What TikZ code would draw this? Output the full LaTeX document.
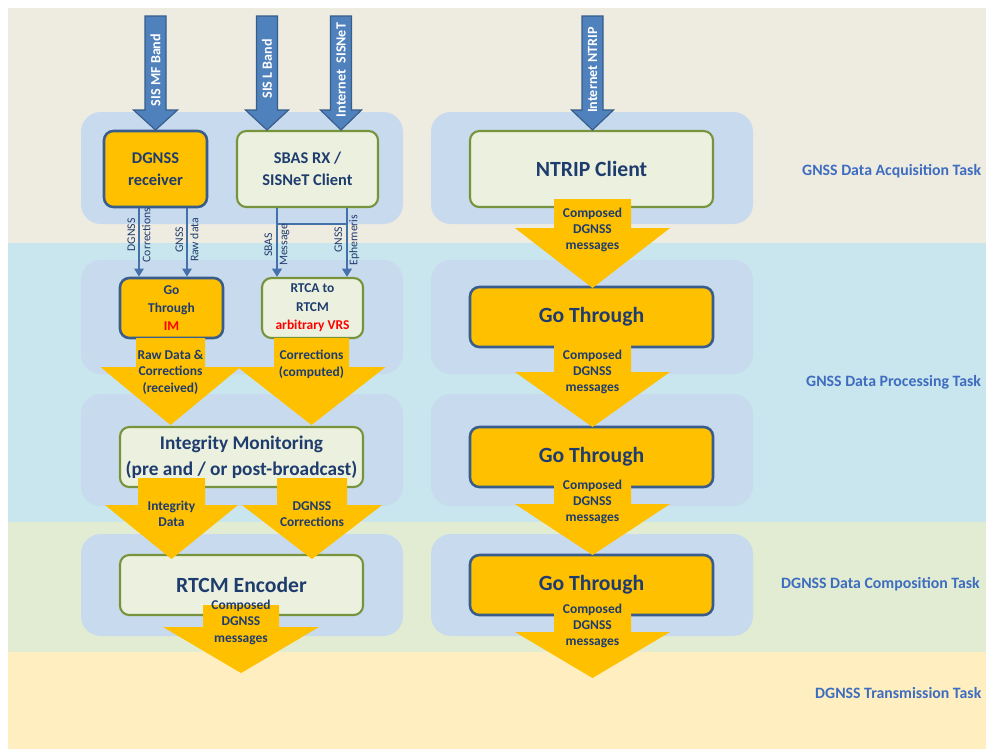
\documentclass[tikz,border=0pt]{standalone}
\usepackage{fontspec}
\setmainfont{Carlito}
\usepackage{xcolor}
\definecolor{bandbeige}{HTML}{EEEBE1}
\definecolor{bandblue}{HTML}{C9E5ED}
\definecolor{bandgreen}{HTML}{E1ECD2}
\definecolor{bandyellow}{HTML}{FFEEBF}
\definecolor{groupblue}{HTML}{C8DAEE}
\definecolor{boxorange}{HTML}{FFC000}
\definecolor{boxgreen}{HTML}{EBF1DE}
\definecolor{edgegreen}{HTML}{77933C}
\definecolor{edgeblue}{HTML}{385D8A}
\definecolor{arrowblue}{HTML}{4F81BD}
\definecolor{linkblue}{HTML}{4571AA}
\definecolor{textnavy}{HTML}{1F3C6E}
\definecolor{tasktext}{HTML}{3E6DC0}
\definecolor{imred}{HTML}{FF0000}
\usepackage{tikz}
\usetikzlibrary{arrows.meta,positioning,calc}

\newcommand{\blockdown}[7]{%
  \path[#1] (#2-#6,#3) -- (#2+#6,#3) -- (#2+#6,#4) -- (#2+#7,#4) -- (#2,#5)
    -- (#2-#7,#4) -- (#2-#6,#4) -- cycle;}

\tikzset{
  group/.style={fill=groupblue, rounded corners=17pt},
  orangebox/.style={draw=edgeblue, line width=2.2pt, fill=boxorange, rounded corners=8pt,
    text=textnavy, align=center, inner sep=0pt},
  greenbox/.style={draw=edgegreen, line width=1.8pt, fill=boxgreen, rounded corners=8pt,
    text=textnavy, align=center, inner sep=0pt},
  bigtext/.style={font=\fontsize{18.5}{22}\selectfont\bfseries},
  midtext/.style={font=\fontsize{14}{19}\selectfont\bfseries},
  smalltext/.style={font=\fontsize{11.5}{15.7}\selectfont\bfseries},
  bluearrow/.style={fill=arrowblue, draw=edgeblue, line width=1pt},
  orangearrow/.style={fill=boxorange},
  bandtext/.style={rotate=90, text=white, font=\fontsize{12}{14}\selectfont\bfseries, inner sep=0pt},
  arrowtext/.style={text=textnavy, align=center, font=\fontsize{11.5}{14}\selectfont\bfseries, inner sep=0pt},
  link/.style={draw=linkblue, line width=2pt, -{Triangle[length=7pt,width=8pt]}},
  linklabel/.style={rotate=90, align=center, text=textnavy, font=\fontsize{10}{13}\selectfont, inner sep=0pt},
  tasklabel/.style={anchor=west, text=tasktext, font=\fontsize{13.5}{16}\selectfont\bfseries, inner sep=0pt}
}

\begin{document}
\begin{tikzpicture}[x=0.03cm, y=-0.03cm]
  \fill[white] (0,0) rectangle (986,749);
  \clip (0,0) rectangle (986,749);

  \fill[bandbeige] (8,8) rectangle (986,243);
  \fill[bandblue] (8,243) rectangle (986,522);
  \fill[bandgreen] (8,522) rectangle (986,652);
  \fill[bandyellow] (8,652) rectangle (986,749);

  \fill[group] (81,112) rectangle (403,224);
  \fill[group] (81,260) rectangle (403,374);
  \fill[group] (81,394) rectangle (403,506);
  \fill[group] (81,534) rectangle (403,636);
  \fill[group] (431,112) rectangle (753,224);
  \fill[group] (431,260) rectangle (753,374);
  \fill[group] (431,394) rectangle (753,506);
  \fill[group] (431,534) rectangle (753,636);

  \node[tasklabel] (acq) at (802,171) {GNSS Data Acquisition Task};
  \node[tasklabel] (proc) at (806,382) {GNSS Data Processing Task};
  \node[tasklabel] (comp) at (781,584) {DGNSS Data Composition Task};
  \node[tasklabel] (trans) at (815,693) {DGNSS Transmission Task};

  \node[orangebox, midtext, minimum width=3.09cm, minimum height=2.28cm] (dgnss) at (155.5,169) {DGNSS\\receiver};
  \node[greenbox, midtext, minimum width=4.23cm, minimum height=2.28cm] (sbas) at (307.5,169) {SBAS RX /\\SISNeT Client};
  \node[greenbox, bigtext, minimum width=7.29cm, minimum height=2.28cm] (ntrip) at (591.5,169) {NTRIP Client};

  \node[orangebox, smalltext, minimum width=3.09cm, minimum height=1.8cm] (goim) at (171.5,308) {Go\\Through\\\textcolor{imred}{IM}};
  \node[greenbox, smalltext, minimum width=3.03cm, minimum height=1.8cm] (rtca) at (312.5,308) {RTCA to\\RTCM\\\textcolor{imred}{arbitrary VRS}};
  \node[orangebox, bigtext, minimum width=7.29cm, minimum height=1.8cm] (gothrua) at (591.5,317) {Go Through};

  \node[greenbox, font=\fontsize{16.5}{22}\selectfont\bfseries, minimum width=7.29cm, minimum height=1.8cm] (integ) at (241.5,457) {Integrity Monitoring\\(pre and / or post-broadcast)};
  \node[orangebox, bigtext, minimum width=7.29cm, minimum height=1.8cm] (gothrub) at (591.5,457) {Go Through};

  \node[greenbox, bigtext, minimum width=7.29cm, minimum height=1.8cm] (encoder) at (241.5,585) {RTCM Encoder};
  \node[orangebox, bigtext, minimum width=7.29cm, minimum height=1.8cm] (gothruc) at (591.5,585) {Go Through};

  \draw[link] (dgnss.south -| 139,0) -- (goim.north -| 139,0);
  \draw[link] (dgnss.south -| 187,0) -- (goim.north -| 187,0);
  \draw[link] (sbas.south -| 277,0) -- (rtca.north -| 277,0);
  \draw[link] (sbas.south -| 347,0) -- (rtca.north -| 347,0);
  \coordinate (joinl) at (277,224);
  \coordinate (joinr) at (347,224);
  \draw[linkblue, line width=2pt] (joinl) -- (joinr);

  \node[linklabel] (dgcorr) at (139,235) {DGNSS\\Corrections};
  \node[linklabel] (gnssraw) at (187,240) {GNSS\\Raw data};
  \node[linklabel] (sbasmsg) at (277,245) {SBAS\\Message};
  \node[linklabel] (gnsseph) at (347,240) {GNSS\\Ephemeris};

  \blockdown{bluearrow}{155.5}{16}{110}{130}{10.5}{22}
  \blockdown{bluearrow}{267}{16}{110}{130}{10.5}{21.5}
  \blockdown{bluearrow}{341}{16}{110}{130}{10.5}{20.5}
  \blockdown{bluearrow}{592.5}{16}{110}{130}{10.5}{21}
  \node[bandtext] (mfband) at (155.5,70) {SIS MF Band};
  \node[bandtext] (lband) at (267,69) {SIS L Band};
  \node[bandtext] (sisnet) at (341,70) {Internet\ \ SISNeT};
  \node[bandtext] (ntripin) at (592.5,70) {Internet NTRIP};

  \blockdown{orangearrow}{170.5}{338}{367}{425}{34.5}{70}
  \blockdown{orangearrow}{311.5}{338}{367}{425}{37.5}{74}
  \blockdown{orangearrow}{171.5}{478}{505}{559}{33.5}{66.5}
  \blockdown{orangearrow}{312}{478}{505}{559}{35}{70}
  \blockdown{orangearrow}{241}{605}{627}{673}{38}{78}
  \blockdown{orangearrow}{592.5}{199}{228}{288}{38.5}{77.5}
  \blockdown{orangearrow}{592.5}{345}{372}{427}{38.5}{77.5}
  \blockdown{orangearrow}{592.5}{480}{504}{555}{38.5}{77.5}
  \blockdown{orangearrow}{592.5}{607}{632}{678}{38.5}{77.5}

  \node[arrowtext] (rawcorr) at (170.5,372) {Raw Data \&\\Corrections\\(received)};
  \node[arrowtext] (corrcomp) at (311.5,364.5) {Corrections\\(computed)};
  \node[arrowtext] (intdata) at (171.5,514) {Integrity\\Data};
  \node[arrowtext] (dgnsscorr) at (312,514) {DGNSS\\Corrections};
  \node[arrowtext] (encmsg) at (241,622) {Composed\\DGNSS\\messages};
  \node[arrowtext] (ntripmsg) at (592.5,230) {Composed\\DGNSS\\messages};
  \node[arrowtext] (gothruamsg) at (592.5,372) {Composed\\DGNSS\\messages};
  \node[arrowtext] (gothrubmsg) at (592.5,502) {Composed\\DGNSS\\messages};
  \node[arrowtext] (gothrucmsg) at (592.5,626) {Composed\\DGNSS\\messages};
\end{tikzpicture}
\end{document}
